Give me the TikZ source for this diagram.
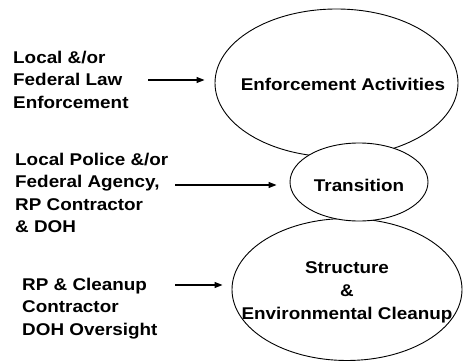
\documentclass[tikz,border=0pt]{standalone}
\usepackage{fontspec}
\setmainfont{Liberation Sans}[FakeStretch=1.11]
\usetikzlibrary{shapes.geometric,arrows.meta}
\begin{document}
\begin{tikzpicture}[x=1pt,y=-1pt,
  lbl/.style={anchor=base west,align=left,inner sep=0pt,font=\fontsize{17}{22.5}\selectfont\bfseries},
  oval/.style={ellipse,draw,line width=0.9pt,inner sep=0pt},
  txt/.style={align=center,inner sep=0pt,font=\fontsize{17}{23}\selectfont\bfseries},
  arr/.style={line width=1.2pt,-{Triangle[length=8pt,width=6pt]}}]
\useasboundingbox (0,0) rectangle (463,361);
% ovals
\node[oval,minimum width=243pt,minimum height=148pt] (e1) at (336.5,83) {};
\node[oval,minimum width=230pt,minimum height=142pt] (e3) at (347,289.5) {};
\node[oval,fill=white,minimum width=138pt,minimum height=78pt] (e2) at (359,182) {};
% oval texts
\node[txt] (x1) at (343,84) {Enforcement Activities};
\node[txt] (x2) at (359,185) {Transition};
\node[txt] (x3) at (347,292) {Structure\\\&\\Environmental Cleanup};
% labels
\node[lbl] (l1) at (13,108) {Local \&/or\\Federal Law\\Enforcement};
\node[lbl] (l2) at (15,232.5) {Local Police \&/or\\Federal Agency,\\RP Contractor\\\& DOH};
\node[lbl] (l3) at (22,335) {RP \& Cleanup\\Contractor\\DOH Oversight};
% arrow tails
\coordinate (t1) at (148,80);
\coordinate (t2) at (175,185);
\coordinate (t3) at (175,285);
\draw[arr,shorten >=10pt] (t1) -- (t1 -| e1.west);
\draw[arr,shorten >=13pt] (t2) -- (t2 -| e2.west);
\draw[arr,shorten >=9pt] (t3) -- (t3 -| e3.west);
\end{tikzpicture}
\end{document}
